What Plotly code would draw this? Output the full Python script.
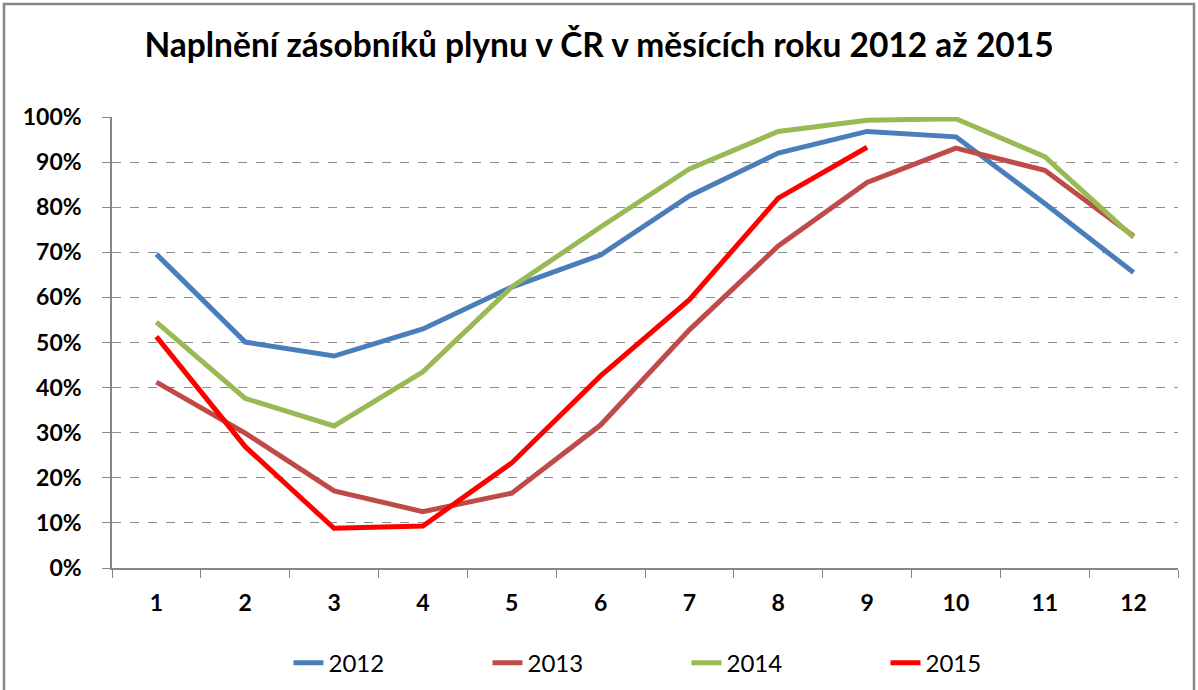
import plotly.graph_objects as go

months = ["1", "2", "3", "4", "5", "6", "7", "8", "9", "10", "11", "12"]
s2012 = [69.6, 50.1, 47.0, 53.0, 62.3, 69.4, 82.5, 92.0, 96.8, 95.6, 80.8, 65.5]
s2013 = [41.2, 29.9, 17.1, 12.5, 16.6, 31.7, 52.8, 71.4, 85.5, 93.1, 88.2, 73.6]
s2014 = [54.5, 37.6, 31.5, 43.5, 62.3, 75.6, 88.5, 96.8, 99.3, 99.6, 91.2, 73.3]
s2015 = [51.3, 26.9, 8.8, 9.3, 23.3, 42.6, 59.5, 82.0, 93.3]
series = [("2012", s2012, "#4A7EBB"), ("2013", s2013, "#BE4B48"),
          ("2014", s2014, "#98B954"), ("2015", s2015, "#FF0000")]

fig = go.Figure()
for name, vals, col in series:
    fig.add_trace(go.Scatter(x=months[:len(vals)], y=[v / 100 for v in vals], name=name,
                             mode="lines", line=dict(color=col, width=5)))

font = "Lato, 'Open Sans', sans-serif"
fig.update_layout(
    width=1198, height=690,
    margin=dict(l=112, r=20, t=117, b=122),
    paper_bgcolor="white", plot_bgcolor="white",
    title=dict(text="<b>Naplnění zásobníků plynu v ČR v měsících roku 2012 až 2015</b>",
               x=0.5, xref="container", xanchor="center", y=0.935, yref="container",
               yanchor="middle", font=dict(family=font, size=33.5, color="black")),
    font=dict(family=font, color="black"),
    showlegend=True,
    legend=dict(orientation="h", x=0.2408, xref="container", xanchor="left",
                y=0.039, yref="container", yanchor="middle",
                entrywidth=154, entrywidthmode="pixels",
                font=dict(family=font, size=24, color="black")),
    xaxis=dict(type="category", categoryorder="array", categoryarray=months,
               tickson="boundaries", ticks="outside", ticklen=8, tickcolor="#868686",
               showline=True, linecolor="#868686", linewidth=1.5, showgrid=False,
               ticklabelstandoff=14,
               tickfont=dict(family=font, size=23, color="black", weight="bold"),
               range=[-0.5, 11.5], zeroline=False),
    yaxis=dict(range=[0, 1], dtick=0.1, tickformat=".0%", ticks="outside", ticklen=8,
               tickcolor="#868686", showline=True, linecolor="#868686", linewidth=1.5,
               showgrid=True, gridcolor="#8c8c8c", griddash="dash", gridwidth=1,
               zeroline=False, ticklabelstandoff=16,
               tickfont=dict(family=font, size=23, color="black", weight="bold")),
)
fig.add_shape(type="rect", xref="paper", yref="paper", x0=-0.1013, x1=1.015,
              y0=-0.29, y1=1.2506, line=dict(color="#868686", width=2.5), layer="below")
fig.write_html("out.html", config={"displayModeBar": False},
               post_script="document.body.style.margin='0';")
